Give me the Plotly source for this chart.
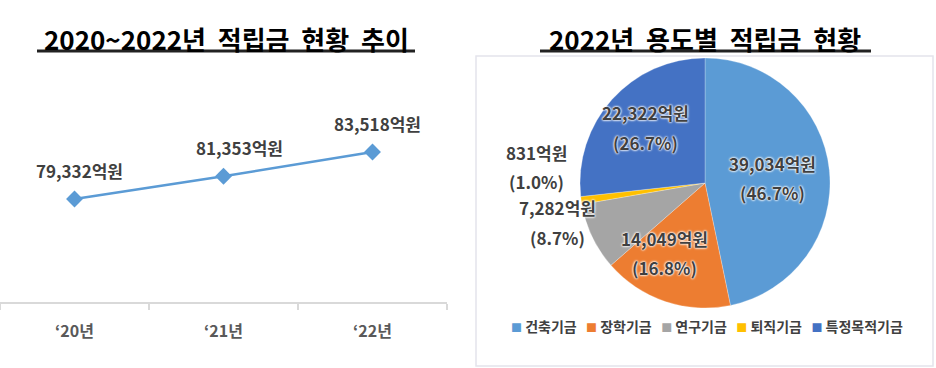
import plotly.graph_objects as go

# ---- data ----
years = ["‘20년", "‘21년", "‘22년"]
totals = [79332, 81353, 83518]

funds = ["건축기금", "장학기금", "연구기금", "퇴직기금", "특정목적기금"]
fund_values = [39034, 14049, 7282, 831, 22322]
fund_colors = ["#5B9BD5", "#ED7D31", "#A5A5A5", "#FFC000", "#4472C4"]

title_left = "2020~2022년 적립금 현황 추이"
title_right = "2022년 용도별 적립금 현황"

W, H = 936, 368
FONT = "Noto Sans CJK KR"
NB = "\u00a0"


def px(x):
    return x / W


def py(y):
    return 1 - y / H


fig = go.Figure()

# ---- left: line chart ----
fig.add_trace(go.Scatter(
    x=years, y=totals, mode="lines+markers",
    line=dict(color="#5B9BD5", width=2.5),
    marker=dict(symbol="diamond", size=13, color="#5B9BD5"),
    showlegend=False, hoverinfo="skip", xaxis="x", yaxis="y",
))

xshifts = [5, 16, 5]
annotations = []
for yr, v, xs in zip(years, totals, xshifts):
    annotations.append(dict(
        x=yr, y=v, xref="x", yref="y", text=f"<b>{v:,}억원</b>",
        showarrow=False, yshift=29, xshift=xs, xanchor="center", yanchor="middle",
        font=dict(family=FONT, size=17, color="#404040"),
    ))

# ---- right: pie ----
fig.add_trace(go.Pie(
    labels=funds, values=fund_values, sort=False, direction="clockwise",
    rotation=0, textinfo="none",
    marker=dict(colors=fund_colors, line=dict(color="rgba(255,255,255,0.5)", width=0.5)),
    domain=dict(x=[px(580), px(830)], y=[py(308), py(58)]),
    hoverinfo="skip", showlegend=False,
))

# slice labels (value line + percent line)
total = sum(fund_values)
GLOW = "0 0 2px #fff, 0 0 2px #fff, 0 0 3px #fff"
label_pos = {0: (772, 163), 1: (664, 238), 2: (557, 208), 3: (536, 152), 4: (645, 113)}
LINE_GAP = 29
for i, (xx, yy) in label_pos.items():
    v = fund_values[i]
    for k, line in enumerate([f"{v:,}억원", f"({v / total * 100:.1f}%)"]):
        annotations.append(dict(
            x=px(xx), y=py(yy + k * LINE_GAP), xref="paper", yref="paper",
            text=f"<b>{line}</b>", showarrow=False, xanchor="center", yanchor="middle",
            font=dict(family=FONT, size=17, color="#404040", shadow=GLOW),
        ))

# legend row (built from categories and colours)
legend_text = (NB * 3).join(
    f"<span style='color:{c};font-size:11px'>■</span>{NB}<b>{n}</b>"
    for n, c in zip(funds, fund_colors)
)
annotations.append(dict(x=px(707), y=py(326), xref="paper", yref="paper",
                        text=legend_text, showarrow=False, xanchor="center",
                        yanchor="middle",
                        font=dict(family=FONT, size=14, color="#404040")))

# titles
annotations.append(dict(x=px(226), y=py(38), xref="paper", yref="paper",
                        text=f"<b>{title_left.replace(' ', NB * 2)}</b>", showarrow=False,
                        xanchor="center", yanchor="middle",
                        font=dict(family=FONT, size=26, color="#000000")))
annotations.append(dict(x=px(705), y=py(38), xref="paper", yref="paper",
                        text=f"<b>{title_right.replace(' ', NB * 2)}</b>", showarrow=False,
                        xanchor="center", yanchor="middle",
                        font=dict(family=FONT, size=26, color="#000000")))

shapes = [
    dict(type="line", xref="paper", yref="paper", x0=px(37), x1=px(415),
         y0=py(51), y1=py(51), line=dict(color="#222222", width=3)),
    dict(type="line", xref="paper", yref="paper", x0=px(540), x1=px(871),
         y0=py(51), y1=py(51), line=dict(color="#222222", width=3)),
    dict(type="rect", xref="paper", yref="paper", x0=px(476), x1=px(933),
         y0=py(366), y1=py(56), line=dict(color="#e4e4ec", width=1.5)),
]

fig.update_layout(
    width=W, height=H, margin=dict(l=0, r=0, t=0, b=0),
    paper_bgcolor="white", plot_bgcolor="white", showlegend=False,
    xaxis=dict(domain=[0, px(447)], type="category", range=[-0.5, 2.5],
               showline=True, linecolor="#d9d9d9", linewidth=1.5,
               ticks="outside", tickson="boundaries", ticklen=6,
               tickcolor="#d9d9d9", tickwidth=1.5, showgrid=False,
               ticklabelstandoff=14,
               tickfont=dict(family=FONT, size=16, color="#595959", weight="bold")),
    yaxis=dict(domain=[py(302), py(60)], range=[70159, 91712], visible=False),
    annotations=annotations, shapes=shapes,
)

fig.write_html("out.html", config={"displayModeBar": False},
               post_script="document.body.style.margin='0px';document.body.style.overflow='hidden';")
